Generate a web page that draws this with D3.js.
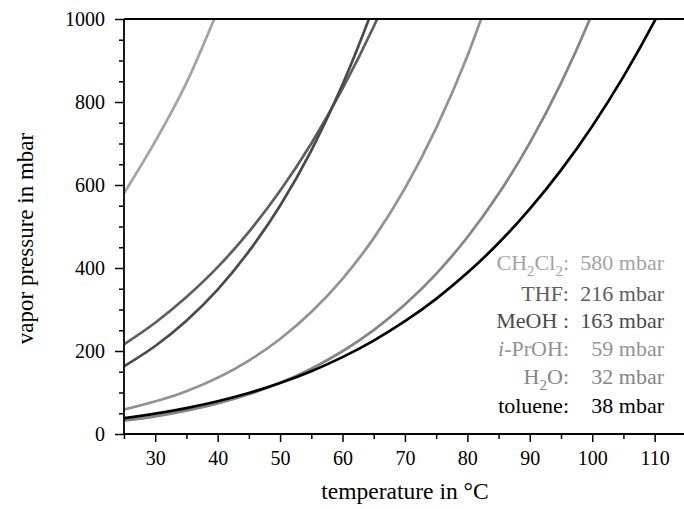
<!DOCTYPE html>
<html>
<head>
<meta charset="utf-8">
<script src="https://cdn.jsdelivr.net/npm/d3@7"></script>
</head>
<body style="margin:0; padding:0; background:#fff; position:relative; width:684px; height:509px; font-family:'Liberation Serif';">
<div style="position:absolute; font-family:'Liberation Serif'; text-align:center; white-space:nowrap; left:205px; top:480px; width:400px; font-size:23.5px; line-height:23.5px;">temperature in °C</div>
<div style="position:absolute; font-family:'Liberation Serif'; text-align:center; white-space:nowrap; left:-175px; top:226.5px; width:400px; height:23px; font-size:23px; line-height:23px; transform:rotate(-90deg); transform-origin:50% 50%;">vapor pressure in mbar</div>
<svg id="chart" width="684" height="509" font-family="Liberation Serif"></svg>
<script>
// ---- data ----
const temps = [25,30,35,40,45,50,55,60,65,70,75,80,85,90,95,100,105,110,115];
const pCH2Cl2 = [580,705,846,1020];
const pTHF = [216,268,330,402,487,586,700,832,982,1153];
const pMeOH = [163,212,273,348,440,550,683,842,1031,1250];
const pIPrOH = [59,null,103,null,177,229,294,374,472,592,737,911,1120];
const pH2O = [32,42.5,56.3,73.8,95.9,123.4,157.5,199.4,250.3,311.8,385.8,474.1,578.7,701.4,845.3,1013.3,1208];
const pToluene = [38,48.9,62.4,78.9,98.8,122.8,151.4,185.3,225.1,271.7,325.7,388.3,460.1,542.4,635.8,741.8,861.1,995.2,1146];

const seriesNames = ["CH2Cl2","THF","MeOH","i-PrOH","H2O","toluene"];
const seriesValues = [pCH2Cl2,pTHF,pMeOH,pIPrOH,pH2O,pToluene];
const seriesColors = ["#a3a3a3","#5e5e5e","#4a4a4a","#929292","#858585","#000000"];
const legendValues = ["580 mbar","216 mbar","163 mbar","59 mbar","32 mbar","38 mbar"];

const xMajorTicks = [30,40,50,60,70,80,90,100,110];
const xMinorTicks = [25,35,45,55,65,75,85,95,105];
const yMajorTicks = [0,200,400,600,800,1000];
const yMinorTicks = [50,100,150,250,300,350,450,500,550,650,700,750,850,900,950];

// ---- layout ----
const FONT = "Liberation Serif";
const svg = d3.select("#chart").style("display", "block");
const mLeft = 124, mRight = 684, mTop = 19, mBottom = 434;
const x = d3.scaleLinear().domain([25, 114.7]).range([mLeft, mRight]);
const y = d3.scaleLinear().domain([0, 1000]).range([mBottom, mTop]);

svg.append("clipPath").attr("id","plotclip")
  .append("rect").attr("x", mLeft).attr("y", mTop).attr("width", mRight-mLeft).attr("height", mBottom-mTop);

// lines
const line = d3.line().x(d => x(d[0])).y(d => y(d[1])).curve(d3.curveMonotoneX);
const gLines = svg.append("g").attr("clip-path","url(#plotclip)");
seriesValues.forEach((vals, i) => {
  const pts = vals.map((v, j) => [temps[j], v]).filter(d => d[1] !== null);
  gLines.append("path").datum(pts)
    .attr("d", line)
    .attr("fill","none")
    .attr("stroke", seriesColors[i])
    .attr("stroke-width", 2.7)
    .attr("stroke-linejoin","round");
});

// axes
const axisColor = "#000";
function styleAxis(g) {
  g.attr("font-family", FONT).attr("font-size", 20);
  g.select(".domain").remove();
  g.selectAll(".tick line").attr("stroke", axisColor).attr("stroke-width", 1.5);
  g.selectAll(".tick text").attr("fill","#000");
}
const xMajor = svg.append("g").attr("transform", `translate(0,${mBottom})`)
  .call(d3.axisBottom(x).tickValues(xMajorTicks).tickSize(8).tickPadding(9).tickFormat(d3.format("d")));
styleAxis(xMajor);
const xMinor = svg.append("g").attr("transform", `translate(0,${mBottom})`)
  .call(d3.axisBottom(x).tickValues(xMinorTicks).tickSize(5).tickFormat(""));
styleAxis(xMinor);
const yMajor = svg.append("g").attr("transform", `translate(${mLeft},0)`)
  .call(d3.axisLeft(y).tickValues(yMajorTicks).tickSize(9).tickPadding(10).tickFormat(d3.format("d")));
styleAxis(yMajor);
const yMinor = svg.append("g").attr("transform", `translate(${mLeft},0)`)
  .call(d3.axisLeft(y).tickValues(yMinorTicks).tickSize(5).tickFormat(""));
styleAxis(yMinor);

// frame lines
svg.append("line").attr("x1", mLeft).attr("x2", mRight).attr("y1", mBottom).attr("y2", mBottom)
  .attr("stroke", axisColor).attr("stroke-width", 1.8);
svg.append("line").attr("x1", mLeft).attr("x2", mRight).attr("y1", mTop).attr("y2", mTop)
  .attr("stroke", axisColor).attr("stroke-width", 1.8);
svg.append("line").attr("x1", mLeft).attr("x2", mLeft).attr("y1", mTop).attr("y2", mBottom)
  .attr("stroke", axisColor).attr("stroke-width", 1.8);

// legend
const legendBaselines = [270, 301, 328, 356, 384, 413];
const nameX = 569, valX = 664;
const lg = svg.append("g").attr("font-size", 22).attr("font-family", FONT);
seriesNames.forEach((name, i) => {
  const t = lg.append("text").attr("x", nameX).attr("y", legendBaselines[i])
    .attr("text-anchor","end").attr("fill", seriesColors[i]);
  if (name === "CH2Cl2") {
    t.append("tspan").text("CH");
    t.append("tspan").attr("dy", 6).attr("font-size", 15).text("2");
    t.append("tspan").attr("dy", -6).text("Cl");
    t.append("tspan").attr("dy", 6).attr("font-size", 15).text("2");
    t.append("tspan").attr("dy", -6).text(":");
  } else if (name === "H2O") {
    t.append("tspan").text("H");
    t.append("tspan").attr("dy", 6).attr("font-size", 15).text("2");
    t.append("tspan").attr("dy", -6).text("O:");
  } else if (name === "i-PrOH") {
    t.append("tspan").attr("font-style","italic").text("i");
    t.append("tspan").text("-PrOH:");
  } else if (name === "MeOH") {
    t.text("MeOH :");
  } else {
    t.text(name + ":");
  }
  lg.append("text").attr("x", valX).attr("y", legendBaselines[i])
    .attr("text-anchor","end").attr("fill", seriesColors[i]).text(legendValues[i]);
});
</script>
</body>
</html>
